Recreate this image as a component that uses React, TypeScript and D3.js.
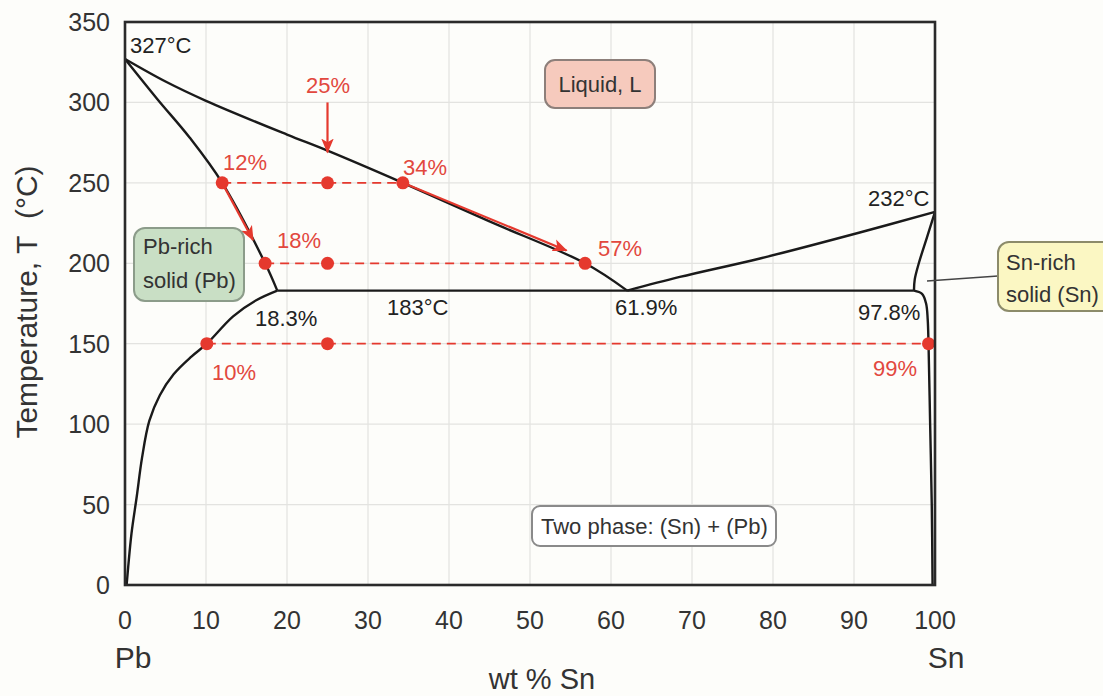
import React from "react";
import * as d3 from "d3";

// ---- data (wt % Sn, temperature °C) ----
const xTicks = [0, 10, 20, 30, 40, 50, 60, 70, 80, 90, 100];
const yTicks = [0, 50, 100, 150, 200, 250, 300, 350];

const liquidusLeft: [number, number][] = [
  [0, 327], [5, 313], [10, 301], [20, 280], [25, 270], [34.3, 250], [45, 226], [56.8, 200], [62, 183],
];
const solidusLeft: [number, number][] = [
  [0, 327], [4, 302], [8, 278], [12, 250], [17.3, 200], [18.8, 183],
];
const solvusLeft: [number, number][] = [
  [18.8, 183], [16.2, 177], [13.35, 167], [10.1, 150], [8.2, 142], [6, 131], [4.3, 118],
  [3, 102], [2.1, 79], [1.45, 55], [0.8, 32], [0.4, 11.5], [0.2, 0],
];
const liquidusRight: [number, number][] = [
  [62, 183], [68.5, 191.5], [78.4, 203], [90.6, 219], [100, 232],
];
const solidusRight: [number, number][] = [
  [100, 232], [99, 216], [98, 200], [97.5, 190], [97.4, 183],
];
const solvusRight: [number, number][] = [
  [97.4, 183], [98.4, 181], [98.9, 175], [99.1, 165], [99.2, 150], [99.4, 100], [99.6, 50], [99.7, 0],
];
const eutectic: [number, number][] = [[18.8, 183], [97.4, 183]];

// tie lines: [temperature, x from, x to], dots
const tieTemps = [250, 200, 150];
const tieFrom = [12, 17.3, 10.1];
const tieTo = [34.3, 56.8, 99.2];
const tieDots: [number, number][] = [
  [12, 250], [25, 250], [34.3, 250],
  [17.3, 200], [25, 200], [56.8, 200],
  [10.1, 150], [25, 150], [99.2, 150],
];
// arrows: from -> to
const arrows: [[number, number], [number, number]][] = [
  [[25, 300], [25, 269]],
  [[12, 250], [15.8, 214.5]],
  [[34.3, 250], [54.5, 208]],
];

// labels: text, x(px start), baseline
const redLabels: [string, number, number, string][] = [
  ["25%", 328, 93, "middle"],
  ["12%", 223, 170, "start"],
  ["34%", 403, 175, "start"],
  ["18%", 277, 248, "start"],
  ["57%", 598, 256, "start"],
  ["10%", 212, 380, "start"],
  ["99%", 873, 376, "start"],
];
const blackLabels: [string, number, number][] = [
  ["327°C", 130, 53],
  ["232°C", 868, 206],
  ["183°C", 387, 315],
  ["18.3%", 255, 326],
  ["61.9%", 615, 315],
  ["97.8%", 858, 320],
];

const W = 1103;
const H = 696;
const left = 125, right = 935, top = 22, bottom = 585;
const FONT = "Arial, 'Liberation Sans', Helvetica, sans-serif";
const RED = "#e5392e";
const RED_TEXT = "#e2483e";

export default function App() {
  const x = d3.scaleLinear().domain([0, 100]).range([left, right]);
  const y = d3.scaleLinear().domain([0, 350]).range([bottom, top]);
  const line = d3.line<[number, number]>().x((d) => x(d[0])).y((d) => y(d[1])).curve(d3.curveCatmullRom.alpha(0.5));
  const straight = d3.line<[number, number]>().x((d) => x(d[0])).y((d) => y(d[1]));

  const curves = [liquidusLeft, solidusLeft, solvusLeft, liquidusRight, solidusRight, solvusRight];

  return (
    <svg width={W} height={H} style={{ position: "fixed", left: 0, top: 0 }} fontFamily={FONT}>
      <defs>
        <marker id="ah2" viewBox="0 0 12 10" refX="11" refY="5" markerWidth="15" markerHeight="13" markerUnits="userSpaceOnUse" orient="auto">
          <path d="M0,0 L12,5 L0,10 L3,5 z" fill={RED} />
        </marker>
      </defs>
      <rect x={0} y={0} width={W} height={H} fill="#fdfdfa" />
      {/* grid */}
      {xTicks.slice(1, -1).map((t) => (
        <line key={"gx" + t} x1={x(t)} x2={x(t)} y1={top} y2={bottom} stroke="#e3e3e0" strokeWidth={1.2} />
      ))}
      {yTicks.slice(1, -1).map((t) => (
        <line key={"gy" + t} x1={left} x2={right} y1={y(t)} y2={y(t)} stroke="#e3e3e0" strokeWidth={1.2} />
      ))}
      {/* tick labels */}
      {xTicks.map((t) => (
        <text key={"tx" + t} x={x(t)} y={629} textAnchor="middle" fontSize={25} fill="#333">{t}</text>
      ))}
      {yTicks.map((t) => (
        <text key={"ty" + t} x={110} y={y(t) + 9} textAnchor="end" fontSize={25} fill="#333">{t}</text>
      ))}
      <text x={133} y={668} textAnchor="middle" fontSize={30} fill="#333">Pb</text>
      <text x={946} y={668} textAnchor="middle" fontSize={30} fill="#333">Sn</text>
      <text x={542} y={689} textAnchor="middle" fontSize={29} fill="#333">wt % Sn</text>
      <text transform="translate(37,302) rotate(-90)" textAnchor="middle" fontSize={30} fill="#333">
        Temperature, T{"\u00a0\u00a0"}(°C)
      </text>

      {/* tie lines */}
      {tieTemps.map((t, i) => (
        <line key={"tie" + t} x1={x(tieFrom[i])} x2={x(tieTo[i])} y1={y(t)} y2={y(t)} stroke={RED} strokeWidth={1.8} strokeDasharray="9,6" />
      ))}

      {/* phase boundaries */}
      {curves.map((c, i) => (
        <path key={"c" + i} d={line(c) || ""} fill="none" stroke="#1a1a1a" strokeWidth={2.4} strokeLinejoin="round" />
      ))}
      <path d={straight(eutectic) || ""} fill="none" stroke="#1a1a1a" strokeWidth={2.4} />

      {/* arrows */}
      {arrows.map((a, i) => (
        <line key={"a" + i} x1={x(a[0][0])} y1={y(a[0][1])} x2={x(a[1][0])} y2={y(a[1][1])} stroke={RED} strokeWidth={2.2} markerEnd="url(#ah2)" />
      ))}

      {/* dots */}
      {tieDots.map((d, i) => (
        <circle key={"d" + i} cx={x(d[0])} cy={y(d[1])} r={6.5} fill={RED} />
      ))}

      {/* frame */}
      <rect x={left} y={top} width={right - left} height={bottom - top} fill="none" stroke="#2a2a2a" strokeWidth={2.6} />

      {/* labels */}
      {redLabels.map((l) => (
        <text key={l[0]} x={l[1]} y={l[2]} textAnchor={l[3] as any} fontSize={22} fill={RED_TEXT}>{l[0]}</text>
      ))}
      {blackLabels.map((l) => (
        <text key={l[0]} x={l[1]} y={l[2]} fontSize={22} fill="#222">{l[0]}</text>
      ))}

      {/* phase boxes */}
      <rect x={545} y={60} width={110} height={48} rx={10} fill="#f6cabd" stroke="#8d7f7a" strokeWidth={2} />
      <text x={600} y={92} textAnchor="middle" fontSize={22} fill="#333">Liquid, L</text>

      <rect x={134} y={228} width={110} height={73} rx={11} fill="#c9dfc5" stroke="#8c9c8a" strokeWidth={2} />
      <text x={143} y={254} fontSize={22} fill="#333">Pb-rich</text>
      <text x={143} y={288} fontSize={22} fill="#333">solid (Pb)</text>

      <line x1={927} y1={281} x2={998} y2={276} stroke="#444" strokeWidth={1.6} />
      <rect x={998} y={242} width={120} height={69} rx={11} fill="#fbf7c3" stroke="#8c8b6a" strokeWidth={2} />
      <text x={1006} y={270} fontSize={22} fill="#333">Sn-rich</text>
      <text x={1006} y={302} fontSize={22} fill="#333">solid (Sn)</text>

      <rect x={532} y={506} width={244} height={40} rx={8} fill="#ffffff" stroke="#8a8a8a" strokeWidth={2} />
      <text x={541} y={534} fontSize={22} fill="#333">Two phase: (Sn) + (Pb)</text>
    </svg>
  );
}
